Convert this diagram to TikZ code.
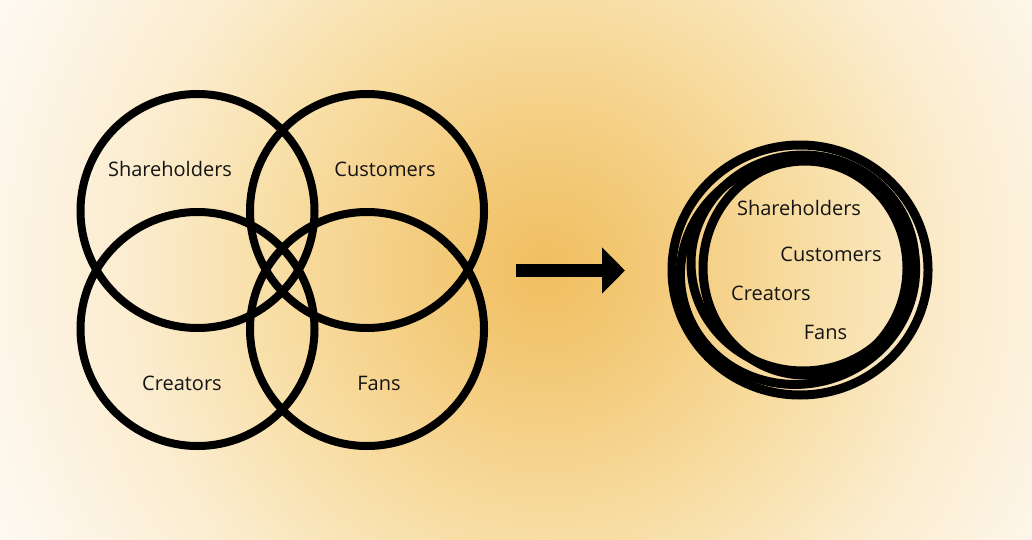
\documentclass[tikz,border=0pt]{standalone}
\usepackage{fontspec}
\setmainfont{Open Sans}
\usetikzlibrary{arrows.meta}
\definecolor{bgA}{RGB}{240,190,95}
\definecolor{bgB}{RGB}{244,205,128}
\definecolor{bgC}{RGB}{248,222,165}
\definecolor{bgD}{RGB}{251,236,205}
\definecolor{bgE}{RGB}{253,245,232}
\definecolor{bgF}{RGB}{254,250,244}
\definecolor{ink}{RGB}{20,20,20}
\pgfdeclareradialshading{bgshade}{\pgfpoint{0bp}{0bp}}{color(0bp)=(bgA); color(5.5bp)=(bgB); color(11bp)=(bgC); color(16.5bp)=(bgD); color(22bp)=(bgE); color(25bp)=(bgF); color(50bp)=(bgF)}
\tikzset{
  ring/.style={draw=black, line width=8pt},
  ringb/.style={draw=black, line width=9pt},
  lbl/.style={text=ink, font=\fontsize{20}{24}\selectfont, inner sep=0pt},
}
\begin{document}
\begin{tikzpicture}[x=1pt,y=-1pt]
\useasboundingbox (0,0) rectangle (1032,540);
\begin{scope}
\clip (0,0) rectangle (1032,540);
\fill[bgF] (0,0) rectangle (1032,540);
\shade[shading=bgshade] (545,270) circle [radius=620];
\end{scope}
% left Venn
\draw[ring] (197.5,211) circle [radius=117];
\draw[ring] (367,211) circle [radius=117];
\draw[ring] (197.5,329) circle [radius=117];
\draw[ring] (367,329) circle [radius=117];
\node[lbl] (sh) at (170,169) {Shareholders};
\node[lbl] (cu) at (385,169) {Customers};
\node[lbl] (cr) at (182,383) {Creators};
\node[lbl] (fa) at (379,383) {Fans};
% arrow
\coordinate (a1) at (516,270.5);
\coordinate (a2) at (625,270.5);
\draw[line width=13pt, -{Triangle[length=23pt,width=45pt]}] (a1) -- (a2);
% right merged rings
\draw[ringb] (800,270) ellipse [x radius=128, y radius=125];
\draw[ringb] (803,263) ellipse [x radius=112, y radius=108];
\draw[ringb, rotate around={15:(798,272)}] (798,272) ellipse [x radius=118, y radius=112];
\draw[ringb] (805,268) ellipse [x radius=102, y radius=107];
\node[lbl] (sh2) at (799,208) {Shareholders};
\node[lbl] (cu2) at (831,254) {Customers};
\node[lbl] (cr2) at (771,293) {Creators};
\node[lbl] (fa2) at (825.5,332) {Fans};
\end{tikzpicture}
\end{document}
